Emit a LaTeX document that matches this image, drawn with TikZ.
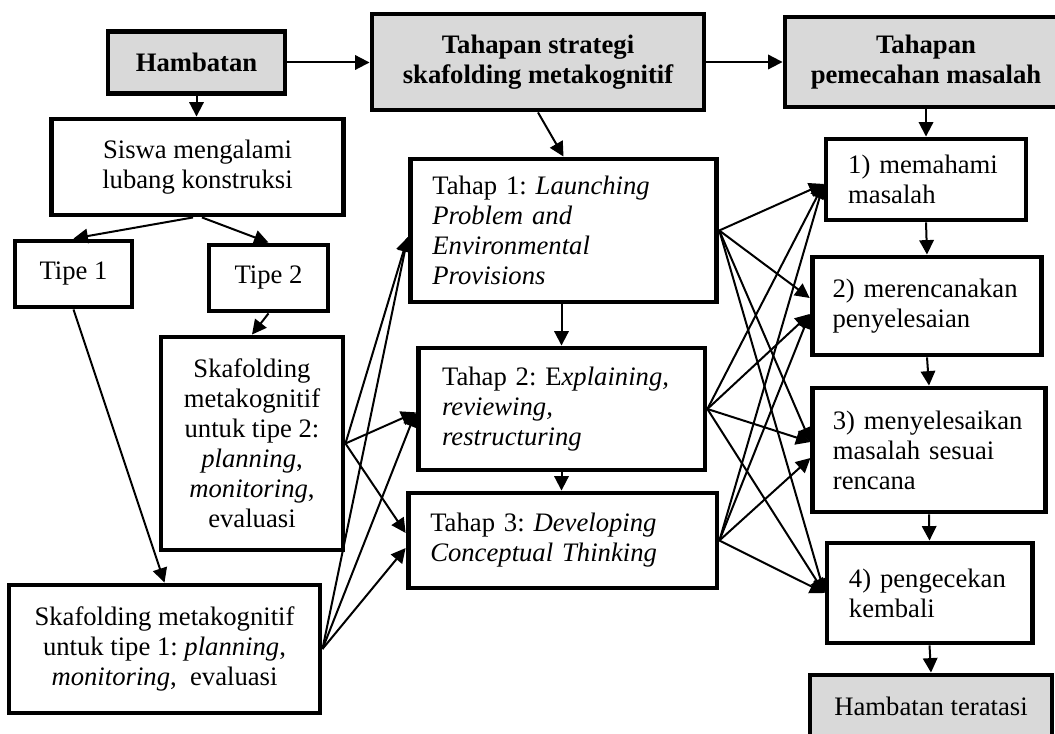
\documentclass[tikz,border=0pt]{standalone}
\usepackage{fontspec}
\setmainfont{Liberation Serif}
\usetikzlibrary{arrows.meta}
\definecolor{headgray}{HTML}{D9D9D9}
\tikzset{
  box/.style = {draw, line width=2.2pt, fill=white, inner sep=2pt,
    font=\fontsize{12}{13.5}\selectfont\frenchspacing},
  cbox/.style = {box, align=center},
  lbox/.style = {box, align=left, inner xsep=10pt},
  headbox/.style = {cbox, fill=headgray, font=\fontsize{12}{13.5}\selectfont\bfseries},
  arr/.style = {-{Triangle[length=6.5pt,width=6.5pt]}, line width=0.9pt},
}
\begin{document}
\begin{tikzpicture}[x=0.45pt, y=-0.45pt]
\useasboundingbox (0,0) rectangle (1055,734);
% top row
\node [headbox, minimum width=79.65pt, minimum height=27.9pt] (ham) at (196.5,62.5) {Hambatan};
\node [headbox, minimum width=149.4pt, minimum height=43.2pt] (str) at (538,62) {Tahapan strategi\\skafolding metakognitif};
\node [headbox, minimum width=126.9pt, minimum height=40.5pt] (pem) at (926,62) {Tahapan\\pemecahan masalah};
% left column
\node [cbox, minimum width=131pt, minimum height=43.2pt] (sis) at (197.5,167) {Siswa mengalami\\lubang konstruksi};
\node [cbox, minimum width=52.65pt, minimum height=29.7pt] (tp1) at (73.5,274) {Tipe 1};
\node [cbox, minimum width=53.55pt, minimum height=29.7pt] (tp2) at (268.5,278) {Tipe 2};
\node [cbox, minimum width=81.9pt, minimum height=95.85pt] (sk2) at (252,443.5) {Skafolding\\metakognitif\\untuk tipe 2:\\\textit{planning},\\\textit{monitoring},\\evaluasi};
\node [cbox, minimum width=139.95pt, minimum height=57.6pt] (sk1) at (164.5,649) {Skafolding metakognitif\\untuk tipe 1: \textit{planning},\\\textit{monitoring},\ \ evaluasi};
% middle column
\node [lbox, text width=118pt, minimum height=64.35pt] (t1) at (563.5,230.5) {Tahap 1: \textit{Launching}\\\textit{Problem and}\\\textit{Environmental}\\\textit{Provisions}};
\node [lbox, text width=107.5pt, inner xsep=10.8pt, minimum height=54.9pt] (t2) at (561.5,409) {Tahap 2: E\textit{xplaining,}\\\textit{reviewing,}\\\textit{restructuring}};
\node [lbox, text width=119pt, minimum height=42.75pt] (t3) at (562.5,540.5) {Tahap 3: \textit{Developing}\\\textit{Conceptual Thinking}};
% right column
\node [lbox, text width=70pt, minimum height=36.45pt] (m1) at (926,179.5) {1) memahami\\masalah};
\node [lbox, text width=85pt, inner xsep=9.2pt, minimum height=44.1pt] (m2) at (927,306) {2) merencanakan\\penyelesaian};
\node [lbox, text width=86.5pt, inner xsep=9pt, minimum height=55.8pt] (m3) at (929,450) {3) menyelesaikan\\masalah sesuai\\rencana};
\node [lbox, text width=72.5pt, inner xsep=9.9pt, minimum height=45pt] (m4) at (929.5,593) {4) pengecekan\\kembali};
\node [headbox, font=\fontsize{12}{13.5}\selectfont, minimum width=108.9pt, minimum height=28.35pt] (ter) at (931,706.5) {Hambatan teratasi};
% main flow
\draw [arr] (ham.east) -- (ham.east -| str.west);
\draw [arr] (str.east) -- (str.east -| pem.west);
\draw [arr] (ham.south) -- (ham.south |- sis.north);
\draw [arr] ([xshift=-2pt]sis.south) -- (tp1.north);
\draw [arr] ([xshift=2pt]sis.south) -- (tp2.north);
\draw [arr] (tp1.south) -- (sk1.north);
\draw [arr] (tp2.south) -- (sk2.north);
\draw [arr] (str.south) -- (t1.north);
\draw [arr] (t2.north |- t1.south) -- (t2.north);
\draw [arr] (t2.south) -- (t2.south |- t3.north);
\draw [arr] (pem.south) -- (pem.south |- m1.north);
\draw [arr] (m1.south) -- (m2.north);
\draw [arr] (m2.south) -- (m3.north);
\draw [arr] (m3.south) -- (m4.north);
\draw [arr] (m4.south) -- (ter.north);
% scaffolding to stages
\foreach \s in {sk1,sk2}{
\draw [arr] (\s.east) -- ([yshift=-3pt]t1.west);
\draw [arr] (\s.east) -- ([yshift=-1.5pt]t2.west);
}
\draw [arr] (sk2.east) -- ([yshift=3.4pt]t3.west);
\draw [arr] (sk1.east) -- ([yshift=-3.4pt]t3.west);
% stages to problem solving steps
\foreach \s in {t1,t2,t3}{
\draw [arr] (\s.east) -- ([yshift=-2pt]m1.west);
\draw [arr] (\s.east) -- (m4.west);
}
\draw [arr] (t1.east) -- ([yshift=3.6pt]m2.west);
\draw [arr] (t2.east) -- ([yshift=-3.6pt]m2.west);
\draw [arr] (t3.east) -- ([yshift=-3.6pt]m2.west);
\draw [arr] (t1.east) -- ([yshift=3.6pt]m3.west);
\draw [arr] (t2.east) -- ([yshift=3.6pt]m3.west);
\draw [arr] (t3.east) -- ([yshift=-3.6pt]m3.west);
\end{tikzpicture}
\end{document}
